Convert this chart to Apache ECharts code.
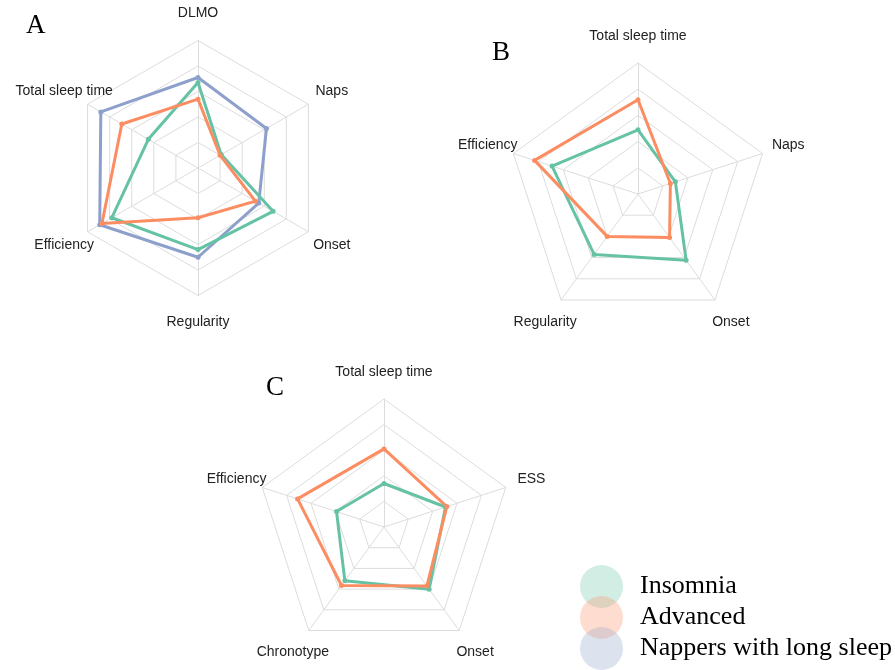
<!DOCTYPE html>
<html><head><meta charset="utf-8">
<script src="https://cdn.jsdelivr.net/npm/echarts@6/dist/echarts.min.js"></script>
<style>html,body{margin:0;padding:0;background:#fff}#c{width:895px;height:670px}</style>
</head><body><div id="c"></div>
<script>
const seriesNames = ['Insomnia', 'Advanced', 'Nappers with long sleep'];
const colors = ['#66c2a5', '#fc8d62', '#8da0cb'];
// indicators listed from the top, going counterclockwise (ECharts radar order)
const axesA = ['DLMO', 'Total sleep time', 'Efficiency', 'Regularity', 'Onset', 'Naps'];
const insomniaA = [0.67, 0.45, 0.78, 0.64, 0.68, 0.21];
const advancedA = [0.54, 0.69, 0.87, 0.39, 0.52, 0.20];
const nappersA  = [0.71, 0.88, 0.89, 0.70, 0.55, 0.62];
const axesB = ['Total sleep time', 'Efficiency', 'Regularity', 'Onset', 'Naps'];
const insomniaB = [0.49, 0.69, 0.57, 0.625, 0.30];
const advancedB = [0.72, 0.83, 0.40, 0.41, 0.26];
const axesC = ['Total sleep time', 'Efficiency', 'Chronotype', 'Onset', 'ESS'];
const insomniaC = [0.34, 0.39, 0.52, 0.60, 0.505];
const advancedC = [0.61, 0.71, 0.565, 0.57, 0.516];
const panelLabels = ['A', 'B', 'C'];

const sans = 'Liberation Sans, Arial, sans-serif';
const serif = 'Liberation Serif, Times New Roman, serif';

function makeRadar(names, center, radius) {
  return {
    center: center, radius: radius, startAngle: 90, splitNumber: 5, shape: 'polygon',
    indicator: names.map(n => ({ name: n, min: 0, max: 1 })),
    nameGap: 27,
    axisName: { color: '#222', fontSize: 14, fontFamily: sans, align: 'center', verticalAlign: 'middle' },
    splitLine: { lineStyle: { color: '#dcdcdc', width: 1 } },
    splitArea: { show: false },
    axisLine: { lineStyle: { color: '#dcdcdc', width: 1 } },
    axisTick: { show: false },
    axisLabel: { show: false }
  };
}
function makeSeries(radarIndex, nameIdx, values) {
  return {
    type: 'radar', radarIndex: radarIndex, name: seriesNames[nameIdx],
    symbol: 'circle', symbolSize: 5, silent: true,
    lineStyle: { width: 3, color: colors[nameIdx] },
    itemStyle: { color: colors[nameIdx] },
    data: [{ value: values, name: seriesNames[nameIdx] }]
  };
}
const titlePos = [[26, 12], [492, 39], [266, 374]];
const option = {
  animation: false,
  color: colors,
  title: panelLabels.map((t, i) => ({
    text: t, left: titlePos[i][0], top: titlePos[i][1], padding: 0,
    textStyle: { fontFamily: serif, fontSize: 27, fontWeight: 'normal', color: '#000' }
  })),
  radar: [
    makeRadar(axesA, [198, 168], 127.5),
    makeRadar(axesB, [638, 194], 131),
    makeRadar(axesC, [384, 527], 128)
  ],
  legend: seriesNames.map((n, i) => ({
    data: [n], left: 580, top: 565 + i * 31, orient: 'vertical', icon: 'circle',
    itemWidth: 67, itemHeight: 43, padding: 0, selectedMode: false,
    itemStyle: { opacity: 0.3 },
    textStyle: { fontFamily: serif, fontSize: 26, color: '#000', padding: [0, 0, 6, 0] }
  })),
  series: [
    makeSeries(0, 2, nappersA),
    makeSeries(0, 0, insomniaA),
    makeSeries(0, 1, advancedA),
    makeSeries(1, 0, insomniaB),
    makeSeries(1, 1, advancedB),
    makeSeries(2, 0, insomniaC),
    makeSeries(2, 1, advancedC)
  ]
};
echarts.init(document.getElementById('c')).setOption(option);
</script>
</body></html>
